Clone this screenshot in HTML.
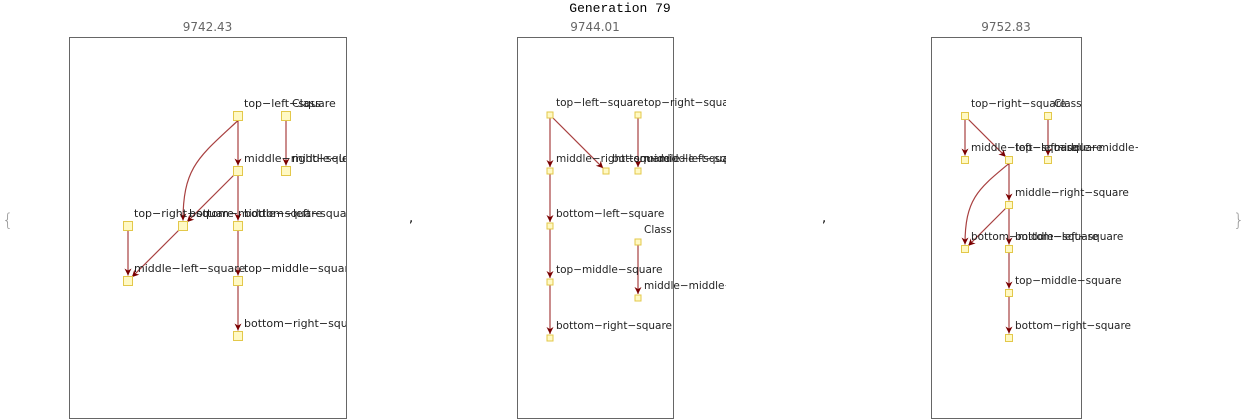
<!DOCTYPE html>
<html><head><meta charset="utf-8"><style>
body{margin:0;background:#fff;width:1242px;height:420px;overflow:hidden}
svg{display:block}
</style></head><body>
<svg id="s" width="1242" height="420" xmlns="http://www.w3.org/2000/svg">
<defs>
<marker id="ah" viewBox="0 0 10 10" refX="10" refY="5" markerWidth="7" markerHeight="9" orient="auto" markerUnits="userSpaceOnUse"><path d="M0,0 L10,5 L0,10 L3,5 z" fill="#7a0000"/></marker>
</defs>
<text x="620" y="12" text-anchor="middle" font-family="'Liberation Mono',monospace" font-size="13" fill="#000">Generation 79</text>
<text x="2" y="226" font-family="'DejaVu Sans',sans-serif" font-size="18" font-weight="200" fill="#999">{</text>
<text x="1233" y="226" font-family="'DejaVu Sans',sans-serif" font-size="18" font-weight="200" fill="#999">}</text>
<text x="409" y="222" font-family="'DejaVu Sans',sans-serif" font-size="13">,</text>
<text x="822" y="222" font-family="'DejaVu Sans',sans-serif" font-size="13">,</text>
</svg>
<script>
const panelScores=["9742.43","9744.01","9752.83"];
const panelFrames=[[69,37,277,381],[517,37,156,381],[931,37,150,381]];
const panelClipRight=[346,726,1138];
const panelSizes=[9,6,7];
const panelFont=[11,10.5,10.5];
const nodes1=[[238,116,"top\u2212left\u2212square"],[286,116,"Class"],[238,171,"middle\u2212right\u2212square"],[286,171,"middle\u2212left\u2212square"],[128,226,"top\u2212right\u2212square"],[183,226,"bottom\u2212middle\u2212square"],[238,226,"bottom\u2212left\u2212square"],[128,281,"middle\u2212left\u2212square"],[238,281,"top\u2212middle\u2212square"],[238,336,"bottom\u2212right\u2212square"]];
const edges1=[[0,2,0],[0,5,1],[1,3,0],[2,5,0],[2,6,0],[6,8,0],[4,7,0],[5,7,0],[8,9,0]];
const nodes2=[[550,115,"top\u2212left\u2212square"],[638,115,"top\u2212right\u2212square"],[550,171,"middle\u2212right\u2212square"],[606,171,"bottom\u2212middle\u2212square"],[638,171,"middle\u2212left\u2212square"],[550,226,"bottom\u2212left\u2212square"],[638,242,"Class"],[550,282,"top\u2212middle\u2212square"],[638,298,"middle\u2212middle\u2212square"],[550,338,"bottom\u2212right\u2212square"]];
const edges2=[[0,2,0],[0,3,0],[1,4,0],[2,5,0],[5,7,0],[7,9,0],[6,8,0]];
const nodes3=[[965,116,"top\u2212right\u2212square"],[1048,116,"Class"],[965,160,"middle\u2212left\u2212square"],[1009,160,"top\u2212left\u2212square"],[1048,160,"middle\u2212middle\u2212square"],[1009,205,"middle\u2212right\u2212square"],[965,249,"bottom\u2212middle\u2212square"],[1009,249,"bottom\u2212left\u2212square"],[1009,293,"top\u2212middle\u2212square"],[1009,338,"bottom\u2212right\u2212square"]];
const edges3=[[0,2,0],[0,3,0],[1,4,0],[3,5,0],[3,6,1],[5,6,0],[5,7,0],[7,8,0],[8,9,0]];
const allNodes=[nodes1,nodes2,nodes3], allEdges=[edges1,edges2,edges3];
const NS="http://www.w3.org/2000/svg", svg=document.getElementById('s');
function mk(t,a){const e=document.createElementNS(NS,t);for(const k in a)e.setAttribute(k,a[k]);return e;}
allNodes.forEach((nodes,p)=>{
  const [fx,fy,fw,fh]=panelFrames[p], sz=panelSizes[p];
  const g=mk('g',{});
  
  
  svg.appendChild(g);
  const cp=mk('clipPath',{id:'cp'+p});cp.appendChild(mk('rect',{x:fx,y:fy,width:panelClipRight[p]-fx,height:fh}));g.appendChild(cp);
  const fr=mk('rect',{x:fx+0.5,y:fy+0.5,width:fw,height:fh,fill:'none',stroke:'#666','stroke-width':1});
  
  
  g.appendChild(fr);
  const st=mk('text',{x:fx+fw/2,y:fy-6,'text-anchor':'middle','font-family':"'DejaVu Sans',sans-serif",'font-size':12,fill:'#666'});
  st.textContent=panelScores[p];
  
  
  g.appendChild(st);
  const inner=mk('g',{'clip-path':'url(#cp'+p+')'});g.appendChild(inner);
  allEdges[p].forEach(([a,b,c])=>{
    const [x1,y1]=nodes[a],[x2,y2]=nodes[b];
    const dx=x2-x1,dy=y2-y1,L=Math.hypot(dx,dy);
    const ex=x2-dx/L*(sz/2+1), ey=y2-dy/L*(sz/2+1);
    let d;
    if(c){const my=y1+(y2-y1)*0.55; d=`M${x1},${y1+sz/2} C${x2+(x1-x2)*0.3},${my-20} ${x2},${my-10} ${x2},${y2-sz/2-1}`;}
    else d=`M${x1},${y1} L${ex},${ey}`;
    const e=mk('path',{d:d,fill:'none',stroke:'#8b0000','stroke-opacity':0.75,'stroke-width':1.2,'marker-end':'url(#ah)'});
    
    
    inner.appendChild(e);
  });
  nodes.forEach(([x,y,l])=>{
    const r=mk('rect',{x:x-sz/2,y:y-sz/2,width:sz,height:sz,fill:'#fff9c4',stroke:'#e3c84a','stroke-width':1});
    
    
    inner.appendChild(r);
    const t=mk('text',{x:x+6,y:y-9,'font-family':"'DejaVu Sans',sans-serif",'font-size':panelFont[p],fill:'#222'});
    t.textContent=l;
    
    
    inner.appendChild(t);
  });
});
</script>
</body></html>
